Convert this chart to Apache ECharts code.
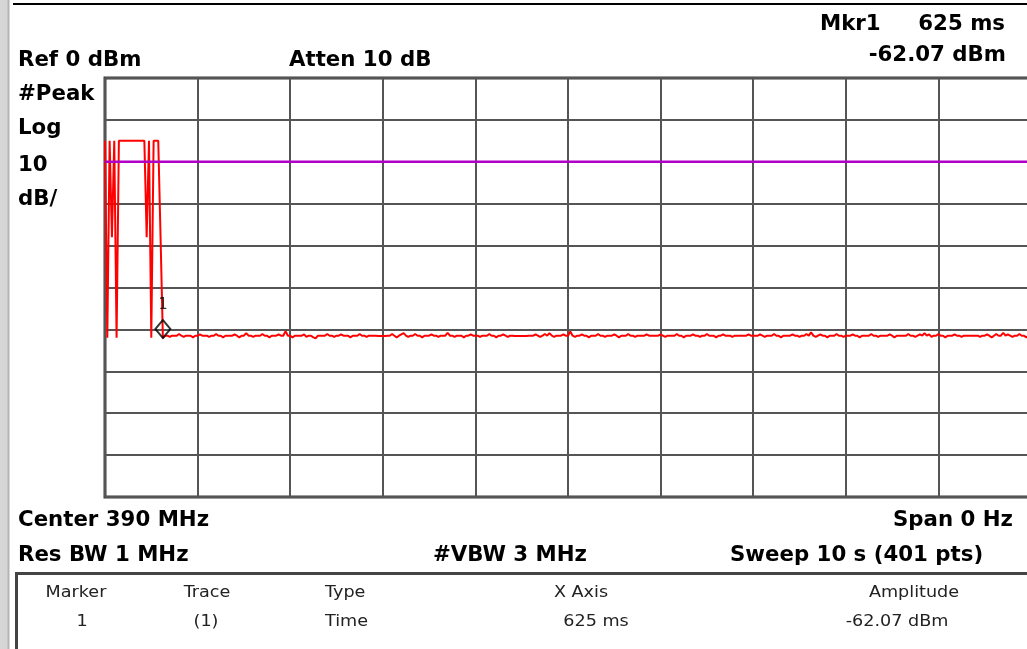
<!DOCTYPE html>
<html>
<head>
<meta charset="utf-8">
<script src="https://cdn.jsdelivr.net/npm/echarts@6/dist/echarts.min.js"></script>
<style>
html,body{margin:0;padding:0;background:#fff;}
#chart{width:1027px;height:649px;}
</style>
</head>
<body>
<div id="chart"></div>
<script>
// ---- data ----
var sweepTime = 10;          // s
var sweepPoints = 401;
var yMin = -100, yMax = 0, yStep = 10;
var xMin = 0, xMax = 10, xStep = 1;
var displayLineLevel = -20;  // dBm
var markerTimeS = 0.625;
var markerAmp = -62.07;
var markerId = '1';

var traceHead = [-15,-62,-15,-38,-15,-62,-15,-15,-15,-15,-15,-15,-15,-15,-15,-15,-15,-15,-38,-15,-62,-15,-15,-15,-38,-62.07];
var traceNoise = [
-61.5,-61.5,-61.8,-61.5,-61.5,-61.5,-61.1,-61.5,-61.8,-61.5,-61.5,-61.5,-61.9,-61.5,-61.5,-61.2,-61.5,-61.5,-61.5,-61.8,-61.5,-61.5,-61.1,-61.5,-61.5,
-61.9,-61.5,-61.5,-61.5,-61.5,-61.2,-61.5,-61.9,-61.5,-61.5,-60.9,-61.5,-61.5,-61.8,-61.5,-61.5,-61.5,-61.1,-61.5,-61.5,-61.9,-61.5,-61.5,-61.5,-61.2,
-61.5,-61.5,-60.4,-61.5,-61.5,-61.9,-61.5,-61.5,-61.5,-61.5,-61.2,-61.8,-61.5,-61.5,-61.9,-62.1,-61.5,-61.5,-61.5,-61.5,-61.1,-61.5,-61.5,-61.8,-61.5,
-61.5,-61.2,-61.5,-61.5,-61.5,-61.9,-61.5,-61.5,-61.5,-61.1,-61.5,-61.5,-61.8,-61.5,-61.5,-61.5,-61.5,-61.6,-61.6,-61.6,-61.6,-61.5,-61.5,-61.1,-61.5,
-61.9,-61.5,-61.2,-60.9,-61.5,-61.8,-61.5,-61.5,-61.1,-61.5,-61.5,-61.9,-61.5,-61.5,-61.5,-61.2,-61.5,-61.5,-61.8,-61.5,-61.5,-61.5,-60.8,-61.5,-61.5,
-61.8,-61.5,-61.5,-61.5,-61.9,-61.5,-61.5,-61.2,-61.5,-61.5,-61.5,-61.8,-61.5,-61.5,-61.5,-61.1,-61.5,-61.5,-61.9,-61.5,-61.5,-61.2,-61.5,-61.8,-61.5,
-61.5,-61.6,-61.6,-61.6,-61.6,-61.6,-61.6,-61.5,-61.5,-61.5,-61.2,-61.5,-61.8,-61.5,-61.1,-61.5,-60.9,-61.5,-61.8,-61.5,-61.5,-61.5,-61.2,-61.5,-61.5,
-60.5,-61.5,-61.8,-61.5,-61.5,-61.2,-61.5,-61.5,-61.9,-61.5,-61.5,-61.5,-61.1,-61.5,-61.5,-61.8,-61.5,-61.5,-61.5,-61.2,-61.5,-61.9,-61.5,-61.5,-61.5,
-61.1,-61.5,-61.5,-61.8,-61.5,-61.5,-61.5,-61.5,-61.2,-61.5,-61.5,-61.5,-61.5,-61.5,-61.2,-61.5,-61.8,-61.5,-61.5,-61.5,-61.5,-61.1,-61.5,-61.5,-61.9,
-61.5,-61.5,-61.5,-61.2,-61.5,-61.5,-61.8,-61.5,-61.5,-61.1,-61.5,-61.5,-61.5,-61.9,-61.5,-61.5,-61.2,-61.5,-61.5,-61.5,-61.8,-61.5,-61.5,-61.5,-61.5,
-61.5,-61.5,-61.2,-61.5,-61.5,-61.5,-61.5,-61.2,-61.5,-61.8,-61.5,-61.5,-61.5,-61.1,-61.5,-61.5,-61.9,-61.5,-61.5,-61.5,-61.5,-61.2,-61.5,-61.5,-61.8,
-61.5,-61.5,-61.1,-61.5,-60.7,-61.5,-61.8,-61.5,-61.2,-61.5,-61.5,-61.9,-61.5,-61.5,-61.5,-61.1,-61.5,-61.5,-61.8,-61.5,-61.5,-61.5,-61.2,-61.5,-61.5,
-61.9,-61.5,-61.5,-61.5,-61.5,-61.1,-61.5,-61.5,-61.8,-61.5,-61.5,-61.5,-61.5,-61.2,-61.5,-61.9,-61.5,-61.5,-61.5,-61.5,-61.5,-61.1,-61.5,-61.5,-61.8,
-61.5,-61.2,-61.5,-60.9,-61.5,-61.2,-61.8,-61.5,-61.5,-61.1,-61.5,-61.5,-61.9,-61.5,-61.5,-61.5,-61.2,-61.5,-61.5,-61.8,-61.5,-61.5,-61.5,-61.5,-61.5,
-61.5,-61.5,-61.8,-61.5,-61.5,-61.2,-61.5,-61.9,-61.5,-61.1,-61.5,-61.5,-60.8,-61.5,-61.2,-61.5,-61.8,-61.5,-61.5,-61.1,-61.5,-61.5,-61.9,-61.5,-61.5
];

var headerTexts = ['Mkr1', '625 ms', '-62.07 dBm', 'Ref 0 dBm', 'Atten 10 dB'];
var leftTexts = ['#Peak', 'Log', '10', 'dB/'];
var footerTexts = ['Center 390 MHz', 'Span 0 Hz', 'Res BW 1 MHz', '#VBW 3 MHz', 'Sweep 10 s (401 pts)'];
var tableHeaders = ['Marker', 'Trace', 'Type', 'X Axis', 'Amplitude'];
var tableRow = ['1', '(1)', 'Time', '625 ms', '-62.07 dBm'];

// ---- build ----
var traceValues = traceHead.concat(traceNoise);
var dt = sweepTime / (sweepPoints - 1);
var traceData = traceValues.map(function (v, i) { return [i * dt, v]; });

var BOLD = 'bold 21.3px "DejaVu Sans"';
var REG = '16px "DejaVu Sans"';
function txt(t, x, y, font, align, sx, fill) {
  return {
    type: 'text', x: x, y: y, scaleX: sx || 1, z: 10,
    style: { text: t, font: font, fill: fill || '#000', align: align, textAlign: align,
             verticalAlign: 'middle', textVerticalAlign: 'middle' }
  };
}

var graphics = [
  { type: 'rect', shape: { x: 0, y: 0, width: 8, height: 649 }, style: { fill: '#d6d6d6' } },
  { type: 'line', shape: { x1: 8.5, y1: 0, x2: 8.5, y2: 649 }, style: { stroke: '#b4b4b4', lineWidth: 2 } },
  { type: 'line', shape: { x1: 13, y1: 4, x2: 1027, y2: 4 }, style: { stroke: '#000', lineWidth: 2 } },
  { type: 'line', shape: { x1: 15, y1: 573.5, x2: 1027, y2: 573.5 }, style: { stroke: '#444', lineWidth: 3 } },
  { type: 'line', shape: { x1: 16.5, y1: 573, x2: 16.5, y2: 649 }, style: { stroke: '#444', lineWidth: 3 } },
  txt(headerTexts[0], 820, 24, BOLD, 'left'),
  txt(headerTexts[1], 1005, 24, BOLD, 'right'),
  txt(headerTexts[2], 1006, 55, BOLD, 'right'),
  txt(headerTexts[3], 18, 60, BOLD, 'left'),
  txt(headerTexts[4], 289, 60, BOLD, 'left'),
  txt(leftTexts[0], 18, 94, BOLD, 'left'),
  txt(leftTexts[1], 18, 128, BOLD, 'left'),
  txt(leftTexts[2], 18, 165, BOLD, 'left'),
  txt(leftTexts[3], 18, 199, BOLD, 'left'),
  txt(footerTexts[0], 18, 520, BOLD, 'left'),
  txt(footerTexts[1], 1013, 520, BOLD, 'right'),
  txt(footerTexts[2], 18, 555, BOLD, 'left'),
  txt(footerTexts[3], 433, 555, BOLD, 'left'),
  txt(footerTexts[4], 730, 555, BOLD, 'left'),
  txt(tableHeaders[0], 76, 593, REG, 'center', 1.1, '#222'),
  txt(tableHeaders[1], 207, 593, REG, 'center', 1.1, '#222'),
  txt(tableHeaders[2], 325, 593, REG, 'left', 1.1, '#222'),
  txt(tableHeaders[3], 581, 593, REG, 'center', 1.1, '#222'),
  txt(tableHeaders[4], 914, 593, REG, 'center', 1.1, '#222'),
  txt(tableRow[0], 82, 622, REG, 'center', 1.1, '#222'),
  txt(tableRow[1], 206, 622, REG, 'center', 1.1, '#222'),
  txt(tableRow[2], 325, 622, REG, 'left', 1.1, '#222'),
  txt(tableRow[3], 596, 622, REG, 'center', 1.1, '#222'),
  txt(tableRow[4], 897, 622, REG, 'center', 1.1, '#222')
];

var chart = echarts.init(document.getElementById('chart'), null, { renderer: 'canvas' });
chart.setOption({
  backgroundColor: '#fff',
  animation: false,
  grid: { left: 105, top: 78, width: 926, height: 419, show: true, borderColor: '#3a3a3a', borderWidth: 3,
          containLabel: false, outerBoundsMode: 'none' },
  xAxis: {
    type: 'value', min: xMin, max: xMax, interval: xStep,
    axisLine: { show: false }, axisTick: { show: false }, axisLabel: { show: false },
    splitLine: { show: true, lineStyle: { color: '#555', width: 2 } }
  },
  yAxis: {
    type: 'value', min: yMin, max: yMax, interval: yStep,
    axisLine: { show: false }, axisTick: { show: false }, axisLabel: { show: false },
    splitLine: { show: true, lineStyle: { color: '#555', width: 2 } }
  },
  series: [
    {
      type: 'line', data: traceData, showSymbol: false, symbol: 'none',
      lineStyle: { color: '#ff0000', width: 2 }, z: 3, silent: true
    },
    {
      type: 'line', data: [[xMin, displayLineLevel], [xMax, displayLineLevel]], symbol: 'none',
      lineStyle: { color: '#b000c8', width: 2.5 }, z: 4, silent: true
    },
    {
      type: 'scatter', data: [[markerTimeS, markerAmp]], symbol: 'diamond',
      symbolSize: [15, 18], symbolOffset: [0, -9],
      itemStyle: { color: 'rgba(0,0,0,0)', borderColor: '#000', borderWidth: 2 },
      label: { show: true, position: 'top', distance: 6, formatter: markerId,
               color: '#000', fontSize: 15, fontFamily: 'DejaVu Sans Mono' },
      z: 5, silent: true
    }
  ],
  graphic: graphics
});
</script>
</body>
</html>
